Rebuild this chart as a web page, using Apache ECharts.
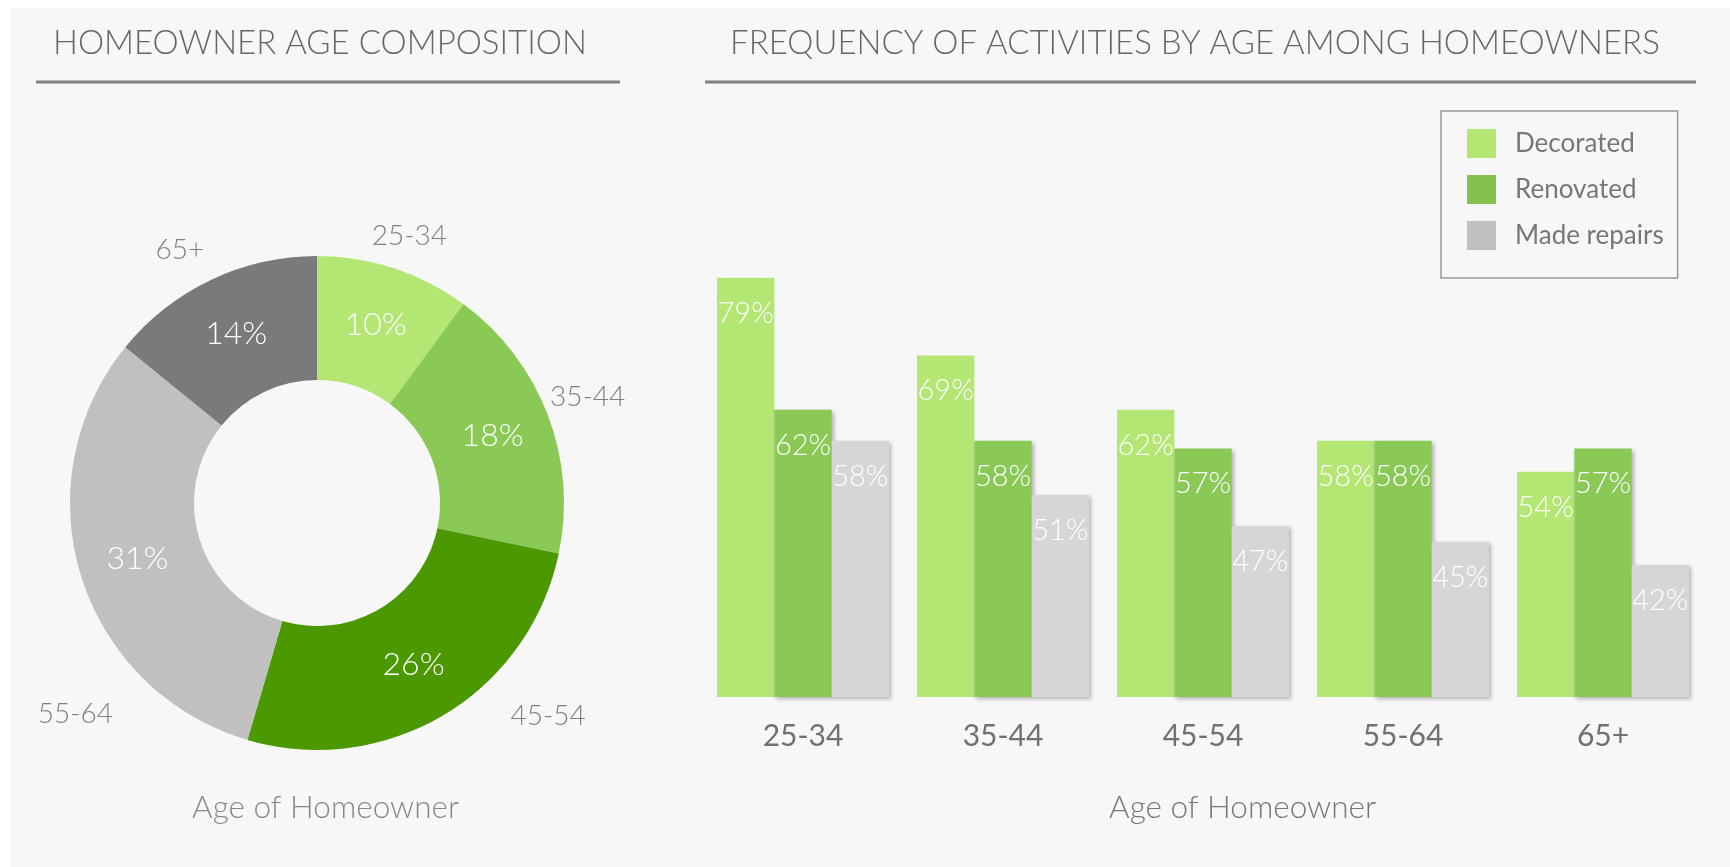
<!DOCTYPE html>
<html>
<head>
<meta charset="utf-8">
<title>Homeowner activities by age</title>
<script src="https://cdn.jsdelivr.net/npm/echarts@6/dist/echarts.min.js"></script>
<style>
  html, body { margin: 0; padding: 0; background: #ffffff; }
  #chart { width: 1730px; height: 867px; }
</style>
</head>
<body>
<div id="chart"></div>
<script>
// Age groups shared by both charts
var ageGroups = ['25-34', '35-44', '45-54', '55-64', '65+'];

// Donut: share of homeowners per age group (%)
var ageShare = [10, 18, 26, 31, 14];

// Bars: share of homeowners doing each activity (%)
var activityNames = ['Decorated', 'Renovated', 'Made repairs'];
var decorated = [79, 69, 62, 58, 54];
var renovated = [62, 58, 57, 58, 57];
var madeRepairs = [58, 51, 47, 45, 42];

// Styling
var pieColors = ['#b3e673', '#8bc957', '#4b9800', '#c0c0c0', '#7a7a7a'];
var barColors = ['#b3e673', '#8bc957', '#d6d6d6'];
var legendColors = ['#b3e673', '#84c150', '#c0c0c0'];
// nudges for the outer age labels of the donut
var outerLabelOffsets = [[3, 5], [3, -4], [84, -33], [32, 126], [-14, 6]];

var FONT = 'Lato, "Noto Sans", sans-serif';

var myChart = echarts.init(document.getElementById('chart'));

function textTitle(text, left, top, size, color) {
    return {
        text: text,
        left: left,
        top: top,
        padding: 0,
        textStyle: {
            fontFamily: FONT,
            fontWeight: 300,
            fontSize: size,
            color: color
        }
    };
}

var option = {
    backgroundColor: '#ffffff',
    animation: false,
    title: [
        textTitle('HOMEOWNER AGE COMPOSITION', 53, 27, 33, '#666666'),
        textTitle('FREQUENCY OF ACTIVITIES BY AGE AMONG HOMEOWNERS', 730, 27, 33, '#666666'),
        textTitle('Age of Homeowner', 192, 792, 31.5, '#888888'),
        textTitle('Age of Homeowner', 1109, 792, 31.5, '#777777')
    ],
    graphic: [
        {
            type: 'rect', z: -10, silent: true,
            shape: { x: 10, y: 8, width: 1720, height: 859 },
            style: { fill: '#f7f7f7' }
        },
        {
            type: 'line', silent: true,
            shape: { x1: 36, y1: 82, x2: 620, y2: 82 },
            style: { stroke: '#808080', lineWidth: 3 }
        },
        {
            type: 'line', silent: true,
            shape: { x1: 705, y1: 82, x2: 1696, y2: 82 },
            style: { stroke: '#808080', lineWidth: 3 }
        }
    ],
    legend: {
        left: 1441,
        top: 111,
        orient: 'vertical',
        selectedMode: false,
        icon: 'rect',
        itemWidth: 29,
        itemHeight: 29,
        itemGap: 17,
        padding: [18, 14, 28, 26],
        borderColor: '#999999',
        borderWidth: 1.5,
        textStyle: {
            fontFamily: FONT,
            fontSize: 26,
            color: '#777777',
            padding: [4, 0, 0, 14]
        },
        data: activityNames.map(function (n, i) {
            return { name: n, itemStyle: { color: legendColors[i] } };
        })
    },
    grid: {
        left: 703,
        top: 270,
        width: 1000,
        height: 427
    },
    xAxis: {
        type: 'category',
        data: ageGroups,
        axisLine: { show: false },
        axisTick: { show: false },
        axisLabel: {
            margin: 24,
            fontFamily: FONT,
            fontSize: 30,
            color: '#717171'
        }
    },
    yAxis: {
        type: 'value',
        min: 25,
        max: 80,
        show: false
    },
    series: [
        {
            // donut slices
            type: 'pie',
            center: [317, 503],
            radius: [123, 247],
            startAngle: 90,
            clockwise: true,
            silent: true,
            label: {
                position: 'inside',
                formatter: '{c}%',
                fontFamily: FONT,
                fontWeight: 300,
                fontSize: 32,
                color: '#ffffff'
            },
            labelLine: { show: false },
            data: ageGroups.map(function (g, i) {
                return { name: g, value: ageShare[i], itemStyle: { color: pieColors[i] } };
            })
        },
        {
            // invisible ring carrying the age group names around the donut
            type: 'pie',
            center: [317, 503],
            radius: [247, 320],
            startAngle: 90,
            clockwise: true,
            silent: true,
            itemStyle: { color: 'rgba(0,0,0,0)' },
            label: {
                position: 'inside',
                formatter: '{b}',
                fontFamily: FONT,
                fontWeight: 300,
                fontSize: 28,
                color: '#808080'
            },
            labelLine: { show: false },
            data: ageGroups.map(function (g, i) {
                return { name: g, value: ageShare[i], label: { offset: outerLabelOffsets[i] } };
            })
        }
    ].concat([decorated, renovated, madeRepairs].map(function (vals, i) {
        return {
            type: 'bar',
            name: activityNames[i],
            data: vals,
            barGap: '0%',
            barCategoryGap: '14%',
            silent: true,
            itemStyle: i === 0 ? { color: barColors[i] } : {
                color: barColors[i],
                shadowColor: 'rgba(0,0,0,0.28)',
                shadowBlur: 4,
                shadowOffsetX: 2,
                shadowOffsetY: 2
            },
            label: {
                show: true,
                position: 'insideTop',
                distance: 21,
                formatter: '{c}%',
                fontFamily: FONT,
                fontWeight: 300,
                fontSize: 29,
                color: '#ffffff'
            }
        };
    }))
};

myChart.setOption(option);
</script>
</body>
</html>
